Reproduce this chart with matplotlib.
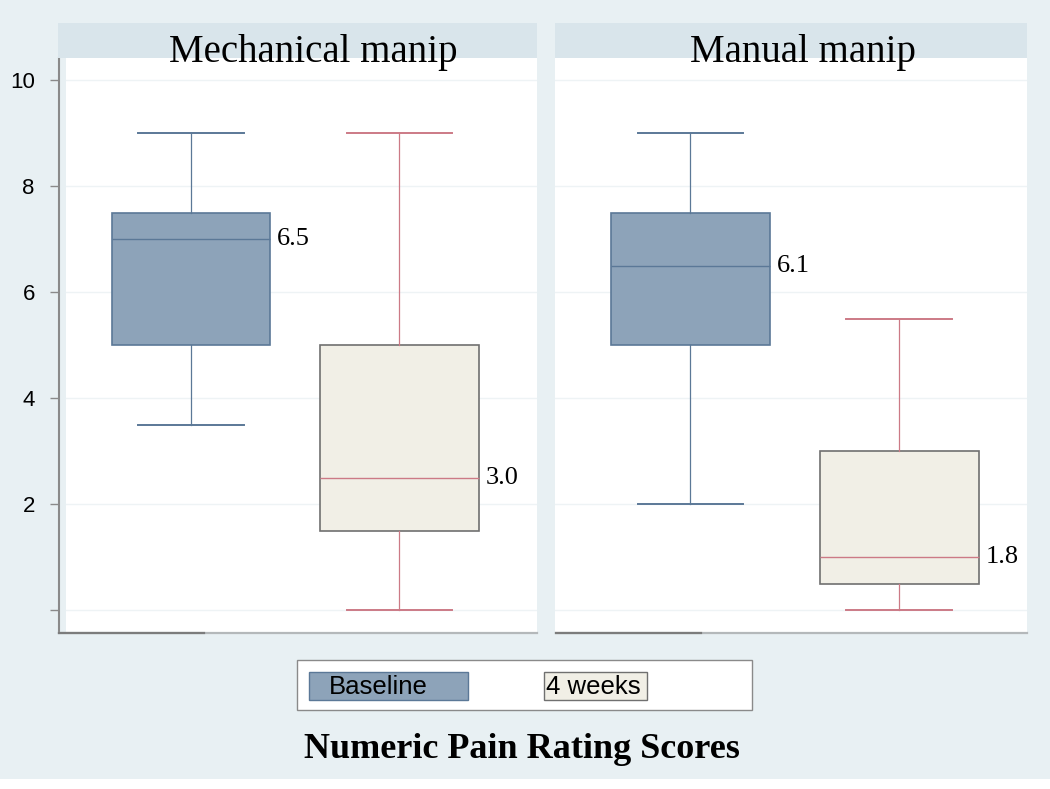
import matplotlib.pyplot as plt
from matplotlib.patches import Rectangle
from matplotlib.lines import Line2D

# box statistics (whisker low, Q1, median, Q3, whisker high) and means
panels = ['Mechanical manip', 'Manual manip']
groups = ['Baseline', '4 weeks']
wlo = [[3.5, 0.0], [2.0, 0.0]]
q1 = [[5.0, 1.5], [5.0, 0.5]]
med = [[7.0, 2.5], [6.5, 1.0]]
q3 = [[7.5, 5.0], [7.5, 3.0]]
whi = [[9.0, 9.0], [9.0, 5.5]]
means = [['6.5', '3.0'], ['6.1', '1.8']]
yticks = [0, 2, 4, 6, 8, 10]
yticklabels = ['', '2', '4', '6', '8', '10']

bg = '#e8f0f3'
strip = '#d9e5eb'
fills = ['#8da3b9', '#f1efe6']
edges = ['#5b7897', '#707070']
lines = ['#5b7897', '#cc7a86']

W, H = 1050, 789
fig = plt.figure(figsize=(W / 100, H / 100), dpi=100, facecolor=bg)
fig.patches.append(Rectangle((0, 0), 1, 10 / H, transform=fig.transFigure,
                             facecolor='white', edgecolor='none', zorder=0))

axes_px = [(66, 537), (555, 1027)]
xlims = [(0.40, 2.66), (0.352, 2.612)]
for p, (x0, x1) in enumerate(axes_px):
    ax = fig.add_axes([x0 / W, (H - 633) / H, (x1 - x0) / W, 575 / H])
    ax.set_facecolor('white')
    ax.set_xlim(*xlims[p])
    ax.set_ylim(-0.43, 10.42)
    for y in yticks:
        ax.axhline(y, color='#eef3f5', lw=1, zorder=0)
    for g in range(2):
        stats = [dict(whislo=wlo[p][g], q1=q1[p][g], med=med[p][g],
                      q3=q3[p][g], whishi=whi[p][g], fliers=[])]
        ax.bxp(stats, positions=[g + 1], widths=0.76, patch_artist=True,
               boxprops=dict(facecolor=fills[g], edgecolor=edges[g], lw=1.2),
               medianprops=dict(color=lines[g], lw=1),
               whiskerprops=dict(color=lines[g], lw=0.9),
               capprops=dict(color=lines[g], lw=1.4), capwidths=0.505)
        ax.annotate(means[p][g], xy=(g + 1 + 0.38, med[p][g]),
                    xytext=(5, 0), textcoords='offset points', va='center',
                    ha='left', family='Liberation Serif', fontsize=19)
    ax.set_xticks([])
    for s in ['top', 'right', 'bottom']:
        ax.spines[s].set_visible(False)
    if p == 0:
        ax.spines['left'].set_position(('outward', 5))
        ax.spines['left'].set_color('#8a8a8a')
        ax.spines['left'].set_linewidth(1.5)
        ax.set_yticks(yticks)
        ax.set_yticklabels(yticklabels, family='Liberation Sans', fontsize=16)
        ax.tick_params(axis='y', length=6.5, width=1, color='#8a8a8a', pad=11)
    else:
        ax.spines['left'].set_visible(False)
        ax.set_yticks([])
    # bottom axis line: darker first part, lighter rest
    bx0 = 59 if p == 0 else x0 + 1
    fig.add_artist(Line2D([bx0 / W, x1 / W], [(H - 633) / H] * 2,
                          color='#b4b8ba', lw=1.6))
    fig.add_artist(Line2D([bx0 / W, (bx0 + 145) / W], [(H - 633) / H] * 2,
                          color='#7c7c7c', lw=1.6))
    # panel header strip
    hx0 = 58 if p == 0 else x0
    fig.patches.append(Rectangle((hx0 / W, (H - 58) / H), (x1 - hx0) / W, 35 / H,
                                 transform=fig.transFigure, facecolor=strip,
                                 edgecolor='none'))
    fig.text(((x0 + x1) / 2 + 12) / W, (H - 62) / H, panels[p], ha='center',
             va='baseline', family='Liberation Serif', fontsize=28)

# legend box
fig.patches.append(Rectangle((297 / W, (H - 710) / H), 455 / W, 50 / H,
                             transform=fig.transFigure, facecolor='white',
                             edgecolor='#8a8a8a', lw=1))
fig.patches.append(Rectangle((309 / W, (H - 700) / H), 159 / W, 28 / H,
                             transform=fig.transFigure, facecolor=fills[0],
                             edgecolor=edges[0], lw=1))
fig.patches.append(Rectangle((544 / W, (H - 700) / H), 103 / W, 28 / H,
                             transform=fig.transFigure, facecolor=fills[1],
                             edgecolor=edges[1], lw=1))
fig.text(329 / W, (H - 687) / H, groups[0], ha='left', va='center',
         family='Liberation Sans', fontsize=18.5)
fig.text(546 / W, (H - 687) / H, groups[1], ha='left', va='center',
         family='Liberation Sans', fontsize=18.5)

fig.text(522 / W, (H - 750) / H, 'Numeric Pain Rating Scores', ha='center',
         va='center', family='Liberation Serif', fontweight='bold', fontsize=26)

fig.savefig('out.png', dpi=100, facecolor=bg)
